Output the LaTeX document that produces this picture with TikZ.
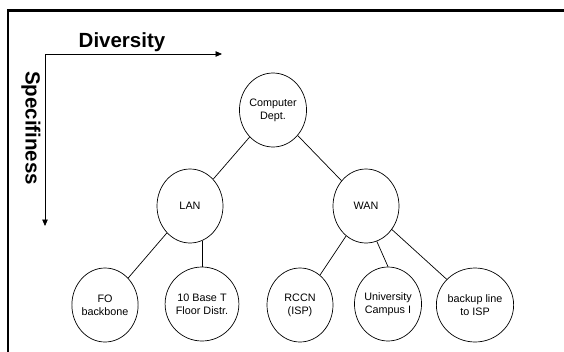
\documentclass[tikz,border=0pt]{standalone}
\usepackage{fontspec}
\setmainfont{Liberation Sans}
\usetikzlibrary{arrows.meta,shapes.geometric}
\begin{document}
\begin{tikzpicture}[x=1pt,y=-1pt,
  unit/.style={draw,ellipse,line width=0.7pt,minimum width=66pt,minimum height=74pt,
    inner sep=0pt,align=center,font=\fontsize{10.8}{13}\selectfont},
  link/.style={line width=0.7pt},
  axis/.style={line width=0.8pt,-{Triangle[length=6.5pt,width=5.5pt]}},
  axislabel/.style={font=\fontsize{20.5}{24}\selectfont\bfseries,inner sep=0pt}]
\useasboundingbox (0,0) rectangle (564,351);

% frame
\draw[line width=2.5pt,line join=miter] (564,10.3) -- (8,10.3) -- (8,352);

% axes
\coordinate (origin) at (45,54);
\coordinate (xend) at (222,54);
\coordinate (yend) at (45,226);
\draw[axis] (origin) -- (xend);
\draw[axis] (origin) -- (yend);
\node[axislabel,anchor=base] (div) at (122,47.5) {Diversity};
\node[axislabel,anchor=base,rotate=-90] (spec) at (25.5,128) {Specifiness};

% tree nodes
\node[unit] (cd)   at (273,110) {Computer\\Dept.};
\node[unit] (lan)  at (190,206) {LAN};
\node[unit] (wan)  at (366,206) {WAN};
\node[unit] (fo)   at (105,305) {FO\\backbone};
\node[unit] (tbt)  at (202,304) {10 Base T\\Floor Distr.};
\node[unit] (rccn) at (300,305) {RCCN\\(ISP)};
\node[unit] (uni)  at (388,304) {University\\Campus I};
\node[unit] (bak)  at (475,305) {backup line\\to ISP};

% connectors
\draw[link] (cd) -- (lan);
\draw[link] (cd) -- (wan);
\draw[link] (lan) -- (fo);
\draw[link] (tbt.north) -- (tbt.north |- lan.-71);
\draw[link] (wan) -- (rccn);
\draw[link] (wan.-73) -- (uni.north);
\draw[link] (wan) -- (bak);
\end{tikzpicture}
\end{document}
